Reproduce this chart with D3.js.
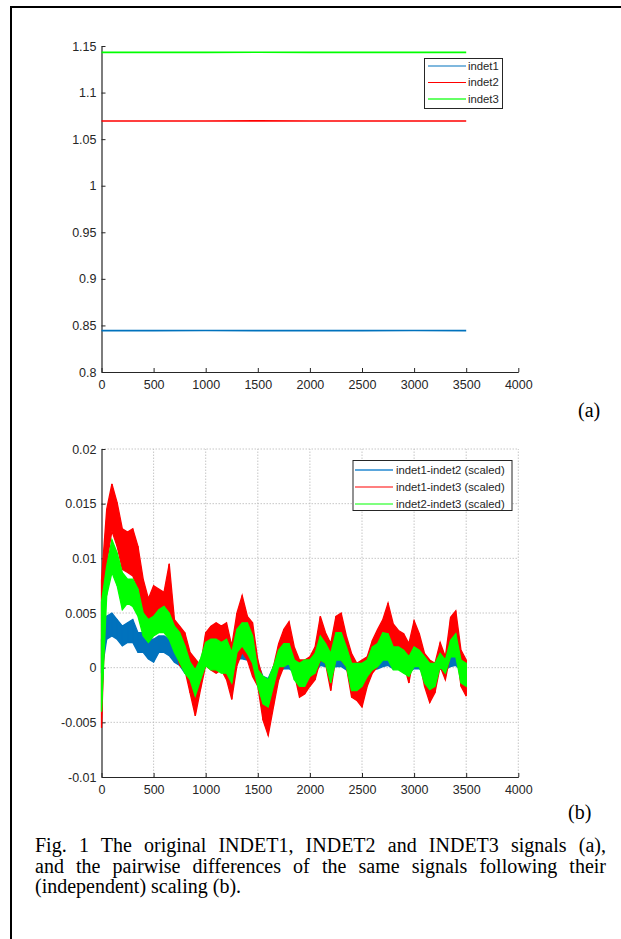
<!DOCTYPE html>
<html><head><meta charset="utf-8">
<script src="https://cdn.jsdelivr.net/npm/d3@7"></script>
<style>body{margin:0;background:#fff}svg{display:block}</style>
</head><body><svg id="c" width="621" height="939"></svg>
<script>
// ---------- data ----------
const xTicks = [0,500,1000,1500,2000,2500,3000,3500,4000];
const xTickLabels = ["0","500","1000","1500","2000","2500","3000","3500","4000"];
const yTicksTop = [0.8,0.85,0.9,0.95,1,1.05,1.1,1.15];
const yTickLabelsTop = ["0.8","0.85","0.9","0.95","1","1.05","1.1","1.15"];
const yTicksBot = [-0.01,-0.005,0,0.005,0.01,0.015,0.02];
const yTickLabelsBot = ["-0.01","-0.005","0","0.005","0.01","0.015","0.02"];

// panel (a): raw signals (nearly constant)
const tTop = [0,500,1000,1500,2000,2500,3000,3500];
const indet1 = [0.8444,0.8444,0.8445,0.8444,0.8444,0.8444,0.8445,0.8444];
const indet2 = [1.0695,1.0695,1.0695,1.0696,1.0695,1.0695,1.0695,1.0695];
const indet3 = [1.1432,1.1432,1.1432,1.1433,1.1432,1.1432,1.1432,1.1432];
const topNames = ["indet1","indet2","indet3"];

// panel (b): pairwise differences, upper / lower envelope every 50 samples (units of 1e-3)
const diffStep = 50;
const d12_hi = [2.6,4.7,5.0,4.4,3.8,4.1,4.4,3.2,3.2,2.6, 2.6,2.9,2.9,2.6,2.0,1.7,0.8,0.5,0.2,0.3,
  1.1,1.1,1.1,1.1,1.1,0.8,2.0,2.3,2.2,1.6, 0.4,-0.8,-1.0,0.1,0.7,1.0,1.0,0.5,0.4,0.4,
  0.4,0.5,1.3,1.2,0.7,1.0,1.0,0.7,0.2,0.1, 0.1,0.5,0.7,0.9,1.0,1.1,0.8,0.8,0.7,0.5,
  0.8,0.7,0.4,0.1,0.2,0.7,0.5,1.0,1.1,0.7, 0.2];
const d12_lo = [-0.5,2.6,2.9,2.6,2.0,2.3,2.3,1.4,1.4,0.8, 0.5,1.4,1.4,1.1,0.5,0.2,-0.5,-0.6,-0.9,-0.8,
  0.2,0.0,0.0,0.0,0.0,0.0,0.8,0.8,0.7,0.4, -0.5,-1.7,-2.0,-0.8,-0.2,-0.1,-0.1,-0.4,-0.5,-0.5,
  -0.5,-0.4,0.2,0.1,-0.2,0.1,0.1,-0.2,-0.7,-0.8, -0.8,-0.4,-0.2,-0.1,0.1,0.2,-0.1,-0.1,-0.2,-0.4,
  -0.1,-0.1,-0.5,-0.8,-0.7,-0.1,-0.2,0.1,0.2,-0.2, -0.5];
const d13_hi = [8.0,14.5,16.8,15.1,12.7,12.4,12.7,11.1,8.1,6.3, 7.5,7.2,6.9,9.5,4.4,3.8,3.2,1.4,0.8,0.2,
  3.2,3.8,4.1,3.8,4.1,2.0,5.0,6.6,4.7,4.1, 0.7,-1.1,-1.7,0.1,2.2,3.5,4.2,1.9,0.7,0.7,
  1.0,1.9,4.7,3.2,2.2,4.7,5.0,2.9,1.3,0.4, 0.7,1.0,2.5,3.5,4.4,5.9,4.0,3.4,3.1,2.2,
  4.3,3.1,1.3,0.7,0.4,2.3,1.0,4.6,5.2,1.6, 0.7];
const d13_lo = [-5.5,9.6,12.5,11.1,9.0,8.7,8.4,7.2,4.1,3.8, 4.4,4.4,4.1,3.6,2.3,0.2,-0.2,-2.3,-4.4,-2.0,
  0.2,-0.2,-0.5,-0.2,-1.1,-2.9,0.2,1.4,0.7,-0.8, -1.7,-4.8,-6.2,-3.6,-1.1,0.1,0.4,-0.5,-2.7,-2.4,
  -1.7,-1.1,0.7,0.4,-2.1,1.0,0.7,0.1,-2.7,-3.0, -3.6,-1.7,-0.5,0.1,1.0,1.9,0.7,1.0,0.4,-1.4,
  1.3,0.7,-1.7,-3.2,-2.3,0.1,-1.1,1.3,2.2,-1.7, -2.6];
const d23_hi = [6.0,9.3,11.7,10.5,8.7,8.1,8.1,7.2,5.0,4.4, 4.7,5.3,5.6,5.0,3.8,3.2,2.0,0.5,-0.2,0.8,
  2.3,2.6,2.6,2.3,2.6,1.4,3.5,4.1,4.1,2.9, -0.2,-0.8,-1.1,0.1,1.6,2.2,2.2,0.7,0.4,0.7,
  0.7,1.3,2.9,2.2,1.3,3.2,3.2,1.9,0.4,0.4, 0.4,0.7,1.9,2.2,3.2,3.1,1.9,1.9,1.6,1.0,
  1.9,1.6,1.0,0.4,0.4,1.3,0.7,2.5,3.1,0.7, 0.4];
const d23_lo = [-4.0,6.6,8.7,7.5,5.3,5.9,5.6,4.7,2.9,2.3, 2.9,3.2,3.2,2.6,1.4,0.5,-0.5,-1.1,-2.6,-1.1,
  0.2,-0.2,-0.2,-0.5,-0.5,-1.4,1.4,2.0,1.3,0.4, -1.7,-3.3,-3.6,-1.7,0.1,0.1,0.4,-1.1,-1.7,-1.7,
  -0.8,-0.5,0.7,0.4,-1.4,0.7,0.7,0.1,-2.1,-2.1, -1.7,-0.8,-0.2,0.1,0.7,0.7,-0.2,-0.2,-0.5,-0.8,
  0.1,0.1,-1.4,-2.0,-1.7,0.1,-0.5,1.0,1.0,-1.4, -1.7];
const diffUnit = 1e-3;
const botNames = ["indet1-indet2 (scaled)","indet1-indet3 (scaled)","indet2-indet3 (scaled)"];

const colBlue = "#0072BD", colRed = "#FF0000", colGreen = "#00FF00";
const axisCol = "#262626";
const tickFont = "'Liberation Sans', Arial, sans-serif";
const serif = "'Liberation Serif', 'Times New Roman', serif";

// ---------- drawing ----------
const svg = d3.select("#c");
svg.append("rect").attr("width",621).attr("height",939).attr("fill","#fff");
svg.append("path").attr("d","M11,939 V7 H621").attr("fill","none").attr("stroke","#000").attr("stroke-width",2);

const xL = 101.5, xR = 518.3;
const xTop = d3.scaleLinear([0,4000],[xL,xR]);
const yTop = d3.scaleLinear([0.8,1.15],[372,46]);
const xBot = d3.scaleLinear([0,4000],[xL,xR]);
const yBot = d3.scaleLinear([-0.01,0.02],[777,449]);

function axes(x, y, yT, yLab, grid) {
  const g = svg.append("g");
  if (grid) {
    const gg = g.append("g").attr("stroke","#b8b8b8").attr("stroke-width",0.8).attr("stroke-dasharray","1.5,1.5");
    gg.selectAll(".gx").data(xTicks.slice(1)).join("line")
      .attr("x1",d=>x(d)).attr("x2",d=>x(d)).attr("y1",y.range()[0]).attr("y2",y.range()[1]);
    gg.selectAll(".gy").data(yT.slice(1)).join("line")
      .attr("y1",d=>y(d)).attr("y2",d=>y(d)).attr("x1",xL).attr("x2",xR);
  }
  const ax = g.append("g").attr("transform",`translate(0,${y.range()[0]})`)
    .call(d3.axisBottom(x).tickValues(xTicks).tickFormat((d,i)=>xTickLabels[i]).tickSizeInner(-4).tickSizeOuter(0).tickPadding(8));
  const ay = g.append("g").attr("transform",`translate(${xL},0)`)
    .call(d3.axisLeft(y).tickValues(yT).tickFormat((d,i)=>yLab[i]).tickSizeInner(-4).tickSizeOuter(0).tickPadding(5));
  [ax,ay].forEach(a=>{
    a.select(".domain").attr("stroke",axisCol).attr("stroke-width",1.2);
    a.selectAll(".tick line").attr("stroke",axisCol);
    a.selectAll("text").attr("fill",axisCol).style("font-family",tickFont).style("font-size","12.5px");
  });
  return g;
}

// panel (a)
axes(xTop, yTop, yTicksTop, yTickLabelsTop, false);
const lineTop = d3.line().x((d,i)=>xTop(tTop[i])).y(d=>yTop(d));
[[indet1,colBlue],[indet2,colRed],[indet3,colGreen]].forEach(([s,c])=>{
  svg.append("path").attr("d",lineTop(s)).attr("fill","none").attr("stroke",c).attr("stroke-width",1.6);
});

const lgA = svg.append("g");
lgA.append("rect").attr("x",424.5).attr("y",58.5).attr("width",78).attr("height",50)
  .attr("fill","#fff").attr("stroke",axisCol).attr("stroke-width",1);
[colBlue,colRed,"#66ff66"].forEach((c,i)=>{
  const yy = 66 + i*16.5;
  lgA.append("line").attr("x1",428).attr("x2",466).attr("y1",yy).attr("y2",yy).attr("stroke",c).attr("stroke-width",i==2?2.2:1.2);
  lgA.append("text").attr("x",468).attr("y",yy).attr("dy","0.35em").text(topNames[i])
    .attr("fill",axisCol).style("font-family",tickFont).style("font-size","11.3px");
});

// panel (b)
axes(xBot, yBot, yTicksBot, yTickLabelsBot, true);
function band(hi, lo, col) {
  const tt = hi.map((d,i)=>i*diffStep);
  const area = d3.area().x((d,i)=>xBot(tt[i])).y0((d,i)=>yBot(lo[i]*diffUnit)).y1(d=>yBot(d*diffUnit));
  svg.append("path").attr("d",area(hi)).attr("fill",col).attr("stroke",col).attr("stroke-width",1.3);
  const zz = [];
  hi.forEach((d,i)=>{ zz.push([tt[i],d]); zz.push([tt[i],lo[i]]); });
  svg.append("path").attr("d",d3.line().x(p=>xBot(p[0])).y(p=>yBot(p[1]*diffUnit))(zz))
    .attr("fill","none").attr("stroke",col).attr("stroke-width",1);
}
band(d12_hi, d12_lo, colBlue);
band(d13_hi, d13_lo, colRed);
band(d23_hi, d23_lo, colGreen);

const lgB = svg.append("g");
lgB.append("rect").attr("x",353).attr("y",460.5).attr("width",159).attr("height",50)
  .attr("fill","#fff").attr("stroke",axisCol).attr("stroke-width",1);
["#5aa6dc",colRed,colGreen].forEach((c,i)=>{
  const yy = 470 + i*17;
  lgB.append("line").attr("x1",355).attr("x2",393).attr("y1",yy).attr("y2",yy).attr("stroke",c).attr("stroke-width",i==0?2:1.2);
  lgB.append("text").attr("x",396).attr("y",yy).attr("dy","0.35em").text(botNames[i])
    .attr("fill",axisCol).style("font-family",tickFont).style("font-size","11.3px");
});

// panel labels
svg.append("text").attr("x",578).attr("y",417).text("(a)").style("font-family",serif).style("font-size","20px").attr("fill","#000");
svg.append("text").attr("x",568).attr("y",819).text("(b)").style("font-family",serif).style("font-size","20px").attr("fill","#000");

// caption (justified lines 1-2 via word spacing)
const capLines = [
  "Fig. 1 The original INDET1, INDET2 and INDET3 signals (a),",
  "and the pairwise differences of the same signals following their",
  "(independent) scaling (b)."
];
const cap = svg.append("g").style("font-family",serif).style("font-size","20px").attr("fill","#000");
capLines.forEach((s,i)=>{
  const t = cap.append("text").attr("x",35).attr("y",852 + i*20.5).text(s);
  if (i < 2) {
    const nat = t.node().getComputedTextLength();
    const spaces = s.split(" ").length - 1;
    const target = 571;
    t.style("word-spacing", Math.max(0,(target - nat)/spaces) + "px");
  }
});
</script></body></html>
